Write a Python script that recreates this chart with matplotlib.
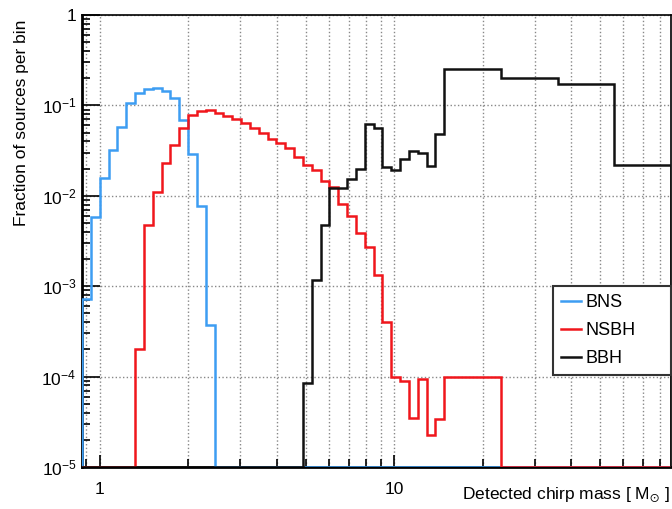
import numpy as np
import matplotlib
matplotlib.use('Agg')
import matplotlib.pyplot as plt
from matplotlib.ticker import FixedLocator, FixedFormatter, NullFormatter

plt.rcParams['font.family'] = ['Liberation Sans', 'DejaVu Sans']
plt.rcParams['mathtext.default'] = 'regular'

# log-spaced bin edges (chirp mass, solar masses)
edges_fine = [0.871, 0.933, 1.000, 1.072, 1.148, 1.230, 1.318, 1.413, 1.514, 1.622,
              1.738, 1.862, 1.995, 2.138, 2.291, 2.455, 2.630, 2.818, 3.020, 3.236,
              3.467, 3.715, 3.981, 4.266, 4.571, 4.898, 5.248, 5.623, 6.026, 6.457,
              6.918, 7.413, 7.943, 8.511, 9.120, 9.772, 10.47, 11.22, 12.02, 12.88,
              13.80, 14.79]
edges_wide = [23.04, 35.89, 55.91, 87.10]

bns = [7.2e-4, 5.9e-3, 0.0156, 0.032, 0.057, 0.105, 0.136, 0.151, 0.155, 0.146,
       0.12, 0.069, 0.0288, 7.7e-3, 3.7e-4]
nsbh = [2.0e-4, 4.8e-3, 0.0111, 0.0229, 0.0365, 0.0557, 0.078, 0.087, 0.090, 0.083,
        0.076, 0.070, 0.064, 0.0567, 0.050, 0.043, 0.038, 0.0335, 0.027, 0.0219,
        0.0193, 0.0147, 0.0124, 8.2e-3, 6.0e-3, 3.85e-3, 2.7e-3, 1.33e-3, 4.05e-4, 1.0e-4,
        8.9e-5, 3.5e-5, 9.5e-5, 2.26e-5, 3.4e-5, 1.0e-4]
bbh = [8.6e-5, 1.17e-3, 4.75e-3, 0.0123, 0.0123, 0.0152, 0.0196, 0.0618, 0.0567, 0.021,
       0.0193, 0.0253, 0.031, 0.030, 0.0214, 0.048, 0.253, 0.20, 0.172, 0.0219]

bns_edges = edges_fine[0:16]
nsbh_edges = edges_fine[6:42] + edges_wide[:1]
bbh_edges = edges_fine[25:42] + edges_wide

labels = ['BNS', 'NSBH', 'BBH']
colors = ['#3d9df2', '#f0161c', '#111111']

XMIN, XMAX = 0.871, 87.10
YMIN, YMAX = 1e-5, 1.0

fig = plt.figure(figsize=(6.72, 5.09), dpi=100)
ax = fig.add_axes([82/672, 1 - 467/509, 589/672, 452/509])

for vals, edg, lab, col, z in zip([bns, nsbh, bbh], [bns_edges, nsbh_edges, bbh_edges],
                                  labels, colors, [3, 4, 5]):
    # empty bins sit on the bottom of the frame, like ROOT draws them
    e = [XMIN] + list(edg) + [XMAX]
    v = [YMIN] + list(vals) + [YMIN]
    ax.stairs(v, e, color=col, lw=1.8, label=lab, zorder=z)

ax.set_xscale('log')
ax.set_yscale('log')
ax.set_xlim(XMIN, XMAX)
ax.set_ylim(YMIN, YMAX)

ax.xaxis.set_major_locator(FixedLocator([1, 10]))
ax.xaxis.set_major_formatter(FixedFormatter(['1', '10']))
ax.xaxis.set_minor_locator(FixedLocator([0.9, 2, 3, 4, 5, 6, 7, 8, 9,
                                         20, 30, 40, 50, 60, 70, 80]))
ax.xaxis.set_minor_formatter(NullFormatter())

yt = [1e-5, 1e-4, 1e-3, 1e-2, 1e-1, 1]
ax.yaxis.set_major_locator(FixedLocator(yt))
ax.yaxis.set_major_formatter(FixedFormatter(['$10^{-5}$', '$10^{-4}$', '$10^{-3}$',
                                             '$10^{-2}$', '$10^{-1}$', '1']))
ym = [m * 10.0**d for d in range(-5, 0) for m in range(2, 10)]
ax.yaxis.set_minor_locator(FixedLocator(ym))
ax.yaxis.set_minor_formatter(NullFormatter())

ax.tick_params(axis='both', which='both', direction='in', labelsize=12.5, width=1.2)
ax.tick_params(axis='y', which='major', length=13, pad=4)
ax.tick_params(axis='y', which='minor', length=6)
ax.tick_params(axis='x', which='major', length=9, pad=11)
ax.tick_params(axis='x', which='minor', length=6)

ax.grid(True, which='major', axis='y', ls=':', color='#888888', lw=1)
ax.grid(True, which='both', axis='x', ls=':', color='#888888', lw=1)
ax.set_axisbelow(True)

for s in ['left', 'bottom']:
    ax.spines[s].set_linewidth(2)
for s in ['top', 'right']:
    ax.spines[s].set_linewidth(1.2)

fig.text(22/672, 1 - 20/509, 'Fraction of sources per bin', rotation=90,
         ha='center', va='top', fontsize=12.5)
fig.text(670/672, 1 - 505/509, r'Detected chirp mass [ M$_{\odot}$ ]',
         ha='right', va='bottom', fontsize=12.5)

leg = ax.legend(loc='upper left', bbox_to_anchor=(0.799, 0.0, 0.201, 0.401),
                mode='expand', fontsize=13,
                frameon=True, fancybox=False, framealpha=1, edgecolor='#333333',
                handlelength=1.1, handletextpad=0.25, labelspacing=0.62,
                borderpad=0.45, borderaxespad=0)
leg.get_frame().set_linewidth(1.5)
leg.set_zorder(10)

fig.savefig('out.png', dpi=100)
